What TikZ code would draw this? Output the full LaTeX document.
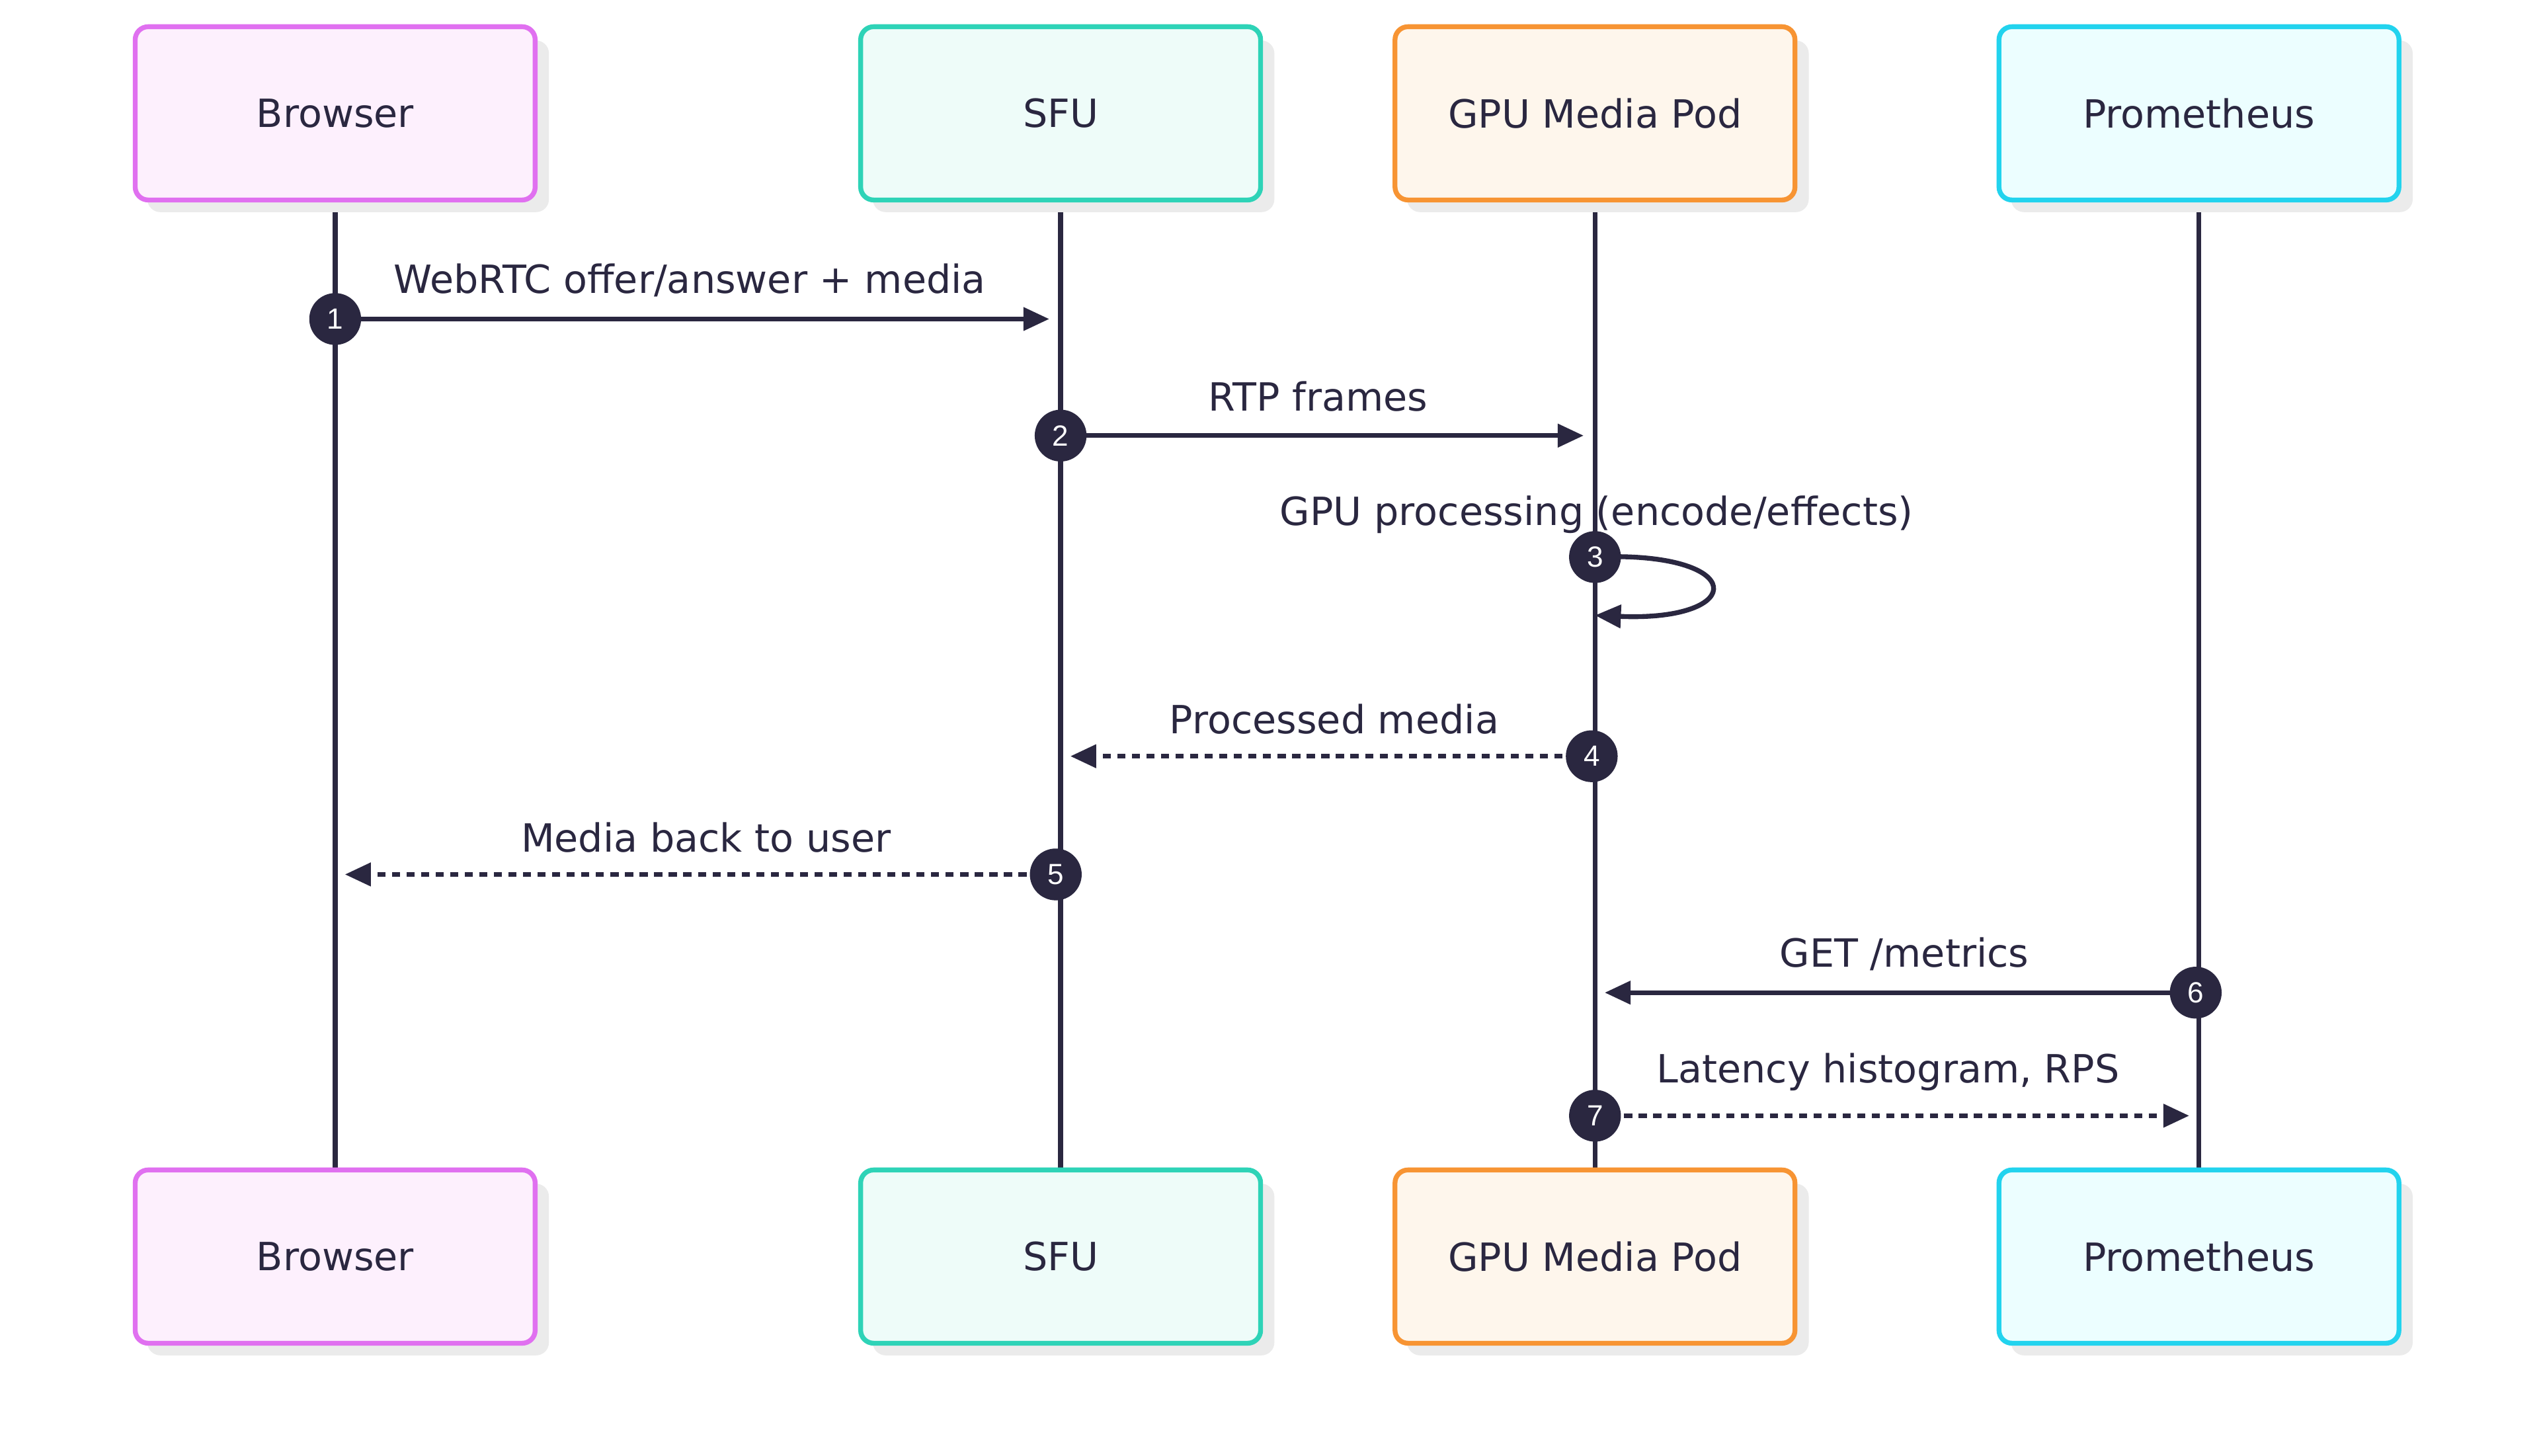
\documentclass[tikz,border=0pt]{standalone}
\usepackage{fontspec}
\setmainfont{DejaVu Sans}
\newfontfamily\numfont{Liberation Sans}
\usetikzlibrary{arrows.meta}
\definecolor{ink}{HTML}{2A2740}
\definecolor{bB}{HTML}{E070F0}\definecolor{fB}{HTML}{FDF0FD}
\definecolor{bS}{HTML}{2ED3B7}\definecolor{fS}{HTML}{EEFCF9}
\definecolor{bG}{HTML}{F79433}\definecolor{fG}{HTML}{FEF6EC}
\definecolor{bP}{HTML}{22D3EE}\definecolor{fP}{HTML}{ECFEFF}
\begin{document}
\begin{tikzpicture}[x=0.5pt,y=-0.5pt,
  actor/.style={draw=#1,line width=1.5pt,rounded corners=4pt,minimum width=123.5pt,minimum height=53.5pt,font=\fontsize{12}{14}\selectfont,text=ink},
  shad/.style={fill=black!8,rounded corners=4pt,draw=none},
  life/.style={draw=ink,line width=1.5pt},
  msg/.style={draw=ink,line width=1.5pt,-{Triangle[length=8pt,width=7pt]}},
  dmsg/.style={msg,dash pattern=on 2.5pt off 2pt},
  num/.style={circle,fill=ink,text=white,inner sep=0pt,minimum size=16pt,font=\numfont\fontsize{9}{10}\selectfont},
  lbl/.style={font=\fontsize{12}{14}\selectfont,text=ink}]
\useasboundingbox (0,0) rectangle (1568,899);
\fill[white] (0,0) rectangle (1568,899);
% lifelines
\foreach \x/\n in {207/B,655/S,985/G,1358/P}{
  \coordinate (t\n) at (\x,124); \coordinate (b\n) at (\x,722);
  \draw[life] (t\n) -- (b\n);}
% boxes
\foreach \x/\n/\t in {207/B/Browser,655/S/SFU,985/G/GPU Media Pod,1358/P/Prometheus}{
  \foreach \y/\s in {70/top,776/bot}{
    \fill[shad] (\x-124+8,\y-53+8) rectangle (\x+124+8,\y+53+8);
    \node[actor=b\n,fill=f\n] (\s\n) at (\x,\y) {\t};}}
% messages
\coordinate (m1a) at (207,197); \coordinate (m1b) at (648,197);
\draw[msg] (m1a) -- (m1b);
\node[lbl] (l1) at (426,173) {WebRTC offer/answer + media};
\node[num] (n1) at (m1a) {1};

\coordinate (m2a) at (655,269); \coordinate (m2b) at (978,269);
\draw[msg] (m2a) -- (m2b);
\node[lbl] (l2) at (814,245) {RTP frames};
\node[num] (n2) at (m2a) {2};

\coordinate (m3a) at (985,344); \coordinate (m3b) at (985,380);
\draw[msg] (m3a) .. controls (1080,340) and (1080,384) .. (m3b);
\node[lbl] (l3) at (986,318) {GPU processing (encode/effects)};
\node[num] (n3) at (m3a) {3};

\coordinate (m4a) at (983,467); \coordinate (m4b) at (661,467);
\draw[dmsg] (m4a) -- (m4b);
\node[lbl] (l4) at (824,444) {Processed media};
\node[num] (n4) at (m4a) {4};

\coordinate (m5a) at (652,540); \coordinate (m5b) at (213,540);
\draw[dmsg] (m5a) -- (m5b);
\node[lbl] (l5) at (436,517) {Media back to user};
\node[num] (n5) at (m5a) {5};

\coordinate (m6a) at (1356,613); \coordinate (m6b) at (991,613);
\draw[msg] (m6a) -- (m6b);
\node[lbl] (l6) at (1176,589) {GET /metrics};
\node[num] (n6) at (m6a) {6};

\coordinate (m7a) at (985,689); \coordinate (m7b) at (1352,689);
\draw[dmsg] (m7a) -- (m7b);
\node[lbl] (l7) at (1166,662) {Latency histogram, RPS};
\node[num] (n7) at (m7a) {7};
\end{tikzpicture}
\end{document}
